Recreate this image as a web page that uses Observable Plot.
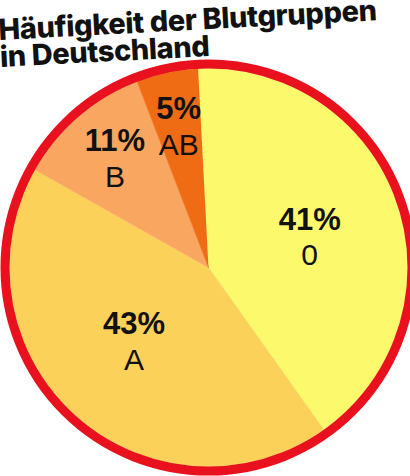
<!DOCTYPE html>
<html><head><meta charset="utf-8">
<script src="https://cdn.jsdelivr.net/npm/d3@7"></script>
<script src="https://cdn.jsdelivr.net/npm/@observablehq/plot@0.6"></script>
<style>
body{margin:0;background:#fff;width:410px;height:476px;overflow:hidden;position:relative;font-family:Inter,"Liberation Sans",sans-serif}
#title{position:absolute;left:0;top:16px;font-weight:800;font-size:29px;letter-spacing:-0.4px;line-height:27px;color:#111;transform:rotate(-3deg);transform-origin:0 42px;white-space:nowrap;z-index:2}
#chart{position:absolute;left:0;top:0}
</style></head><body>
<div id="title">Häufigkeit der Blutgruppen<br>in Deutschland</div>
<div id="chart"></div>
<script>
const groups = ["0", "A", "B", "AB"];
const shares = [41, 43, 11, 5];
const colors = ["#fdf96c", "#fcd159", "#f8a660", "#ef6b14"];

const R = 199, cx = 208, cy = 267;
const rot = -3 * Math.PI / 180;
const data = groups.map((g, i) => ({group: g, share: shares[i]}));
const arcs = d3.pie().sort(null).value(d => d.share).startAngle(rot).endAngle(2 * Math.PI + rot)(data);
const pts = arcs.flatMap(a => {
  const n = Math.max(2, Math.ceil((a.endAngle - a.startAngle) / (Math.PI / 180)));
  const p = [{group: a.data.group, x: 0, y: 0}];
  for (let k = 0; k <= n; k++) {
    const t = a.startAngle + (a.endAngle - a.startAngle) * k / n;
    p.push({group: a.data.group, x: Math.sin(t), y: Math.cos(t)});
  }
  return p;
});
const labels = arcs.map(a => {
  const t = (a.startAngle + a.endAngle) / 2 + (a.data.share > 20 ? 0.05 : 0);
  const r = a.data.share > 20 ? 0.53 : 0.72;
  return {group: a.data.group, share: a.data.share, x: r * Math.sin(t), y: r * Math.cos(t)};
});

const chart = Plot.plot({
  width: 410, height: 476, margin: 0,
  style: {background: "transparent", overflow: "visible"},
  x: {domain: [-1, 1], range: [cx - R, cx + R], axis: null},
  y: {domain: [-1, 1], range: [cy + R, cy - R], axis: null},
  color: {domain: groups, range: colors},
  marks: [
    Plot.line(pts, {x: "x", y: "y", z: "group", fill: "group", stroke: "group", strokeWidth: 0.6}),
    Plot.dot([{x: 0, y: 0}], {x: "x", y: "y", r: R + 4.5, stroke: "#e8111d", strokeWidth: 9, fill: "none"}),
    Plot.text(labels, {x: "x", y: "y", text: d => d.share + "%", dy: -18, fontSize: 31, fontWeight: 700, fill: "#111", fontFamily: "Liberation Sans"}),
    Plot.text(labels, {x: "x", y: "y", text: "group", dy: 18, fontSize: 30, fill: "#111", fontFamily: "Liberation Sans"})
  ]
});
document.getElementById("chart").append(chart);
</script>
</body></html>
